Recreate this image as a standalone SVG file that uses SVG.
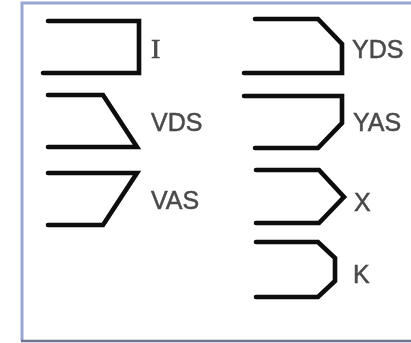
<svg xmlns="http://www.w3.org/2000/svg" width="411" height="343" viewBox="0 0 411 343">
<style>
.s{fill:none;stroke:#0a0a0a;stroke-width:4.6;stroke-linecap:round;stroke-linejoin:miter}
.t{font-family:"Liberation Sans",Arial,sans-serif;font-size:25px;fill:#4a4a4a;stroke:#4a4a4a;stroke-width:0.5}
.m{font-family:"Liberation Serif",serif;font-size:28px;fill:#4a4a4a;stroke:#4a4a4a;stroke-width:0.7}
</style>
<defs><filter id="b" x="-5%" y="-5%" width="110%" height="110%"><feGaussianBlur stdDeviation="0.6"/></filter></defs>
<rect width="411" height="343" fill="#fff"/>
<g filter="url(#b)">
<g id="frame" fill="none">
<path d="M22 341V3H411" stroke="#98a6d4" stroke-width="3"/>
<path d="M21 341H411" stroke="#6f7690" stroke-width="2.5"/>
</g>
<g id="I"><path class="s" d="M48 21H139V73H43"/><text class="m" x="151" y="57.5">I</text></g>
<g id="VDS"><path class="s" d="M48 95H103L137 147H48"/><text class="t" x="151" y="131">VDS</text></g>
<g id="VAS"><path class="s" d="M48 173H137L103 225H48"/><text class="t" x="151" y="209">VAS</text></g>
<g id="YDS"><path class="s" d="M255 19H318L342 44V73H244"/><text class="t" x="352" y="58">YDS</text></g>
<g id="YAS"><path class="s" d="M244 96H342V123L318 148H255"/><text class="t" x="353" y="131">YAS</text></g>
<g id="X"><path class="s" d="M256 170H319L344 197L319 223H256"/><text class="t" x="354" y="211">X</text></g>
<g id="K"><path class="s" d="M256 242H318L335 258V281L318 297H256"/><text class="t" x="353" y="283">K</text></g>
</g>
</svg>
